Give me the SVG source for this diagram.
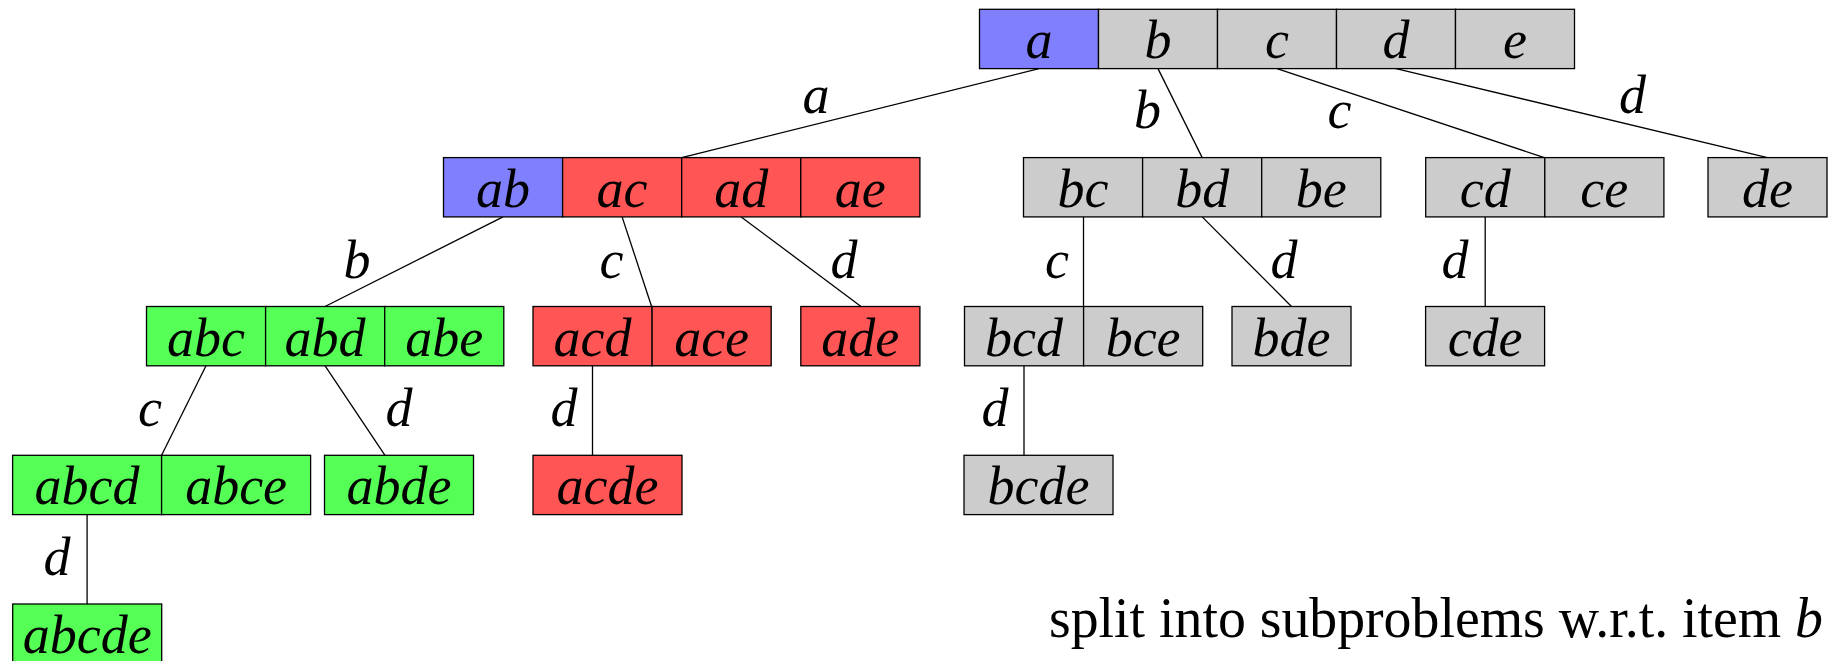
<svg xmlns="http://www.w3.org/2000/svg" width="1835" height="661" viewBox="0 0 1835 661">
<style>
rect{stroke:#000;stroke-width:1.3}
.b{fill:#8080FF}.r{fill:#FF5555}.g{fill:#55FF55}.k{fill:#CCCCCC}
text{font-family:"Liberation Serif","Times New Roman",serif;font-size:54px;fill:#000}
.t,.l{font-style:italic;text-anchor:middle}
#edges line{stroke:#000;stroke-width:1.3}
.cap{font-size:58px}
</style>
<rect x="0" y="0" width="1835" height="661" style="fill:#fff;stroke:none"/>
<g id="edges">
<line x1="1039" y1="68.6" x2="681.7" y2="157.6"/>
<line x1="1158" y1="68.6" x2="1202.2" y2="157.6"/>
<line x1="1277" y1="68.6" x2="1544.3" y2="157.6"/>
<line x1="1396" y1="68.6" x2="1767.5" y2="157.6"/>
<line x1="503" y1="216.9" x2="325" y2="306.5"/>
<line x1="622.1" y1="216.9" x2="651.6" y2="306.5"/>
<line x1="741.2" y1="216.9" x2="861" y2="306.5"/>
<line x1="1083.5" y1="216.9" x2="1083.5" y2="306.5"/>
<line x1="1202.2" y1="216.9" x2="1291.5" y2="306.5"/>
<line x1="1485.2" y1="216.9" x2="1485.2" y2="306.5"/>
<line x1="206" y1="365.8" x2="161.6" y2="455.3"/>
<line x1="325.1" y1="365.8" x2="385" y2="455.3"/>
<line x1="592.5" y1="365.8" x2="592.5" y2="455.3"/>
<line x1="1024" y1="365.8" x2="1024" y2="455.3"/>
<line x1="87.1" y1="514.6" x2="87.1" y2="604"/>
<text class="l" x="816" y="113">a</text>
<text class="l" x="1147.5" y="128">b</text>
<text class="l" x="1339.5" y="128">c</text>
<text class="l" x="1632.5" y="113">d</text>
<text class="l" x="357" y="278">b</text>
<text class="l" x="611.5" y="278">c</text>
<text class="l" x="844" y="278">d</text>
<text class="l" x="1057" y="278">c</text>
<text class="l" x="1284" y="278">d</text>
<text class="l" x="1455" y="278">d</text>
<text class="l" x="150" y="426">c</text>
<text class="l" x="399" y="426">d</text>
<text class="l" x="564" y="426">d</text>
<text class="l" x="995" y="426">d</text>
<text class="l" x="57" y="575">d</text>
</g>
<g id="n-root">
<rect class="b" x="979.5" y="9.3" width="119" height="59.3"/>
<rect class="k" x="1098.5" y="9.3" width="119" height="59.3"/>
<rect class="k" x="1217.5" y="9.3" width="119" height="59.3"/>
<rect class="k" x="1336.5" y="9.3" width="119" height="59.3"/>
<rect class="k" x="1455.5" y="9.3" width="119" height="59.3"/>
<text class="t" x="1039" y="58.3">a</text>
<text class="t" x="1158" y="58.3">b</text>
<text class="t" x="1277" y="58.3">c</text>
<text class="t" x="1396" y="58.3">d</text>
<text class="t" x="1515" y="58.3">e</text>
</g>
<g id="n-a">
<rect class="b" x="443.5" y="157.6" width="119.1" height="59.3"/>
<rect class="r" x="562.6" y="157.6" width="119.1" height="59.3"/>
<rect class="r" x="681.7" y="157.6" width="119.1" height="59.3"/>
<rect class="r" x="800.8" y="157.6" width="119.1" height="59.3"/>
<text class="t" x="503" y="206.6">ab</text>
<text class="t" x="622.1" y="206.6">ac</text>
<text class="t" x="741.2" y="206.6">ad</text>
<text class="t" x="860.3" y="206.6">ae</text>
</g>
<g id="n-b">
<rect class="k" x="1023.5" y="157.6" width="119.1" height="59.3"/>
<rect class="k" x="1142.6" y="157.6" width="119.1" height="59.3"/>
<rect class="k" x="1261.7" y="157.6" width="119.1" height="59.3"/>
<text class="t" x="1083" y="206.6">bc</text>
<text class="t" x="1202.2" y="206.6">bd</text>
<text class="t" x="1321.2" y="206.6">be</text>
</g>
<g id="n-c">
<rect class="k" x="1425.7" y="157.6" width="119.1" height="59.3"/>
<rect class="k" x="1544.8" y="157.6" width="119.1" height="59.3"/>
<text class="t" x="1485.2" y="206.6">cd</text>
<text class="t" x="1604.3" y="206.6">ce</text>
</g>
<g id="n-d">
<rect class="k" x="1708" y="157.6" width="119" height="59.3"/>
<text class="t" x="1767.5" y="206.6">de</text>
</g>
<g id="n-ab">
<rect class="g" x="146.5" y="306.5" width="119.1" height="59.3"/>
<rect class="g" x="265.6" y="306.5" width="119.1" height="59.3"/>
<rect class="g" x="384.7" y="306.5" width="119.1" height="59.3"/>
<text class="t" x="206" y="355.5">abc</text>
<text class="t" x="325.1" y="355.5">abd</text>
<text class="t" x="444.2" y="355.5">abe</text>
</g>
<g id="n-ac">
<rect class="r" x="533" y="306.5" width="119.1" height="59.3"/>
<rect class="r" x="652.1" y="306.5" width="119.1" height="59.3"/>
<text class="t" x="592.5" y="355.5">acd</text>
<text class="t" x="711.6" y="355.5">ace</text>
</g>
<g id="n-ad">
<rect class="r" x="800.8" y="306.5" width="119.1" height="59.3"/>
<text class="t" x="860.3" y="355.5">ade</text>
</g>
<g id="n-bc">
<rect class="k" x="964.5" y="306.5" width="119.1" height="59.3"/>
<rect class="k" x="1083.6" y="306.5" width="119.1" height="59.3"/>
<text class="t" x="1024" y="355.5">bcd</text>
<text class="t" x="1143.1" y="355.5">bce</text>
</g>
<g id="n-bd">
<rect class="k" x="1232" y="306.5" width="119" height="59.3"/>
<text class="t" x="1291.5" y="355.5">bde</text>
</g>
<g id="n-cd">
<rect class="k" x="1425.6" y="306.5" width="119" height="59.3"/>
<text class="t" x="1485.1" y="355.5">cde</text>
</g>
<g id="n-abc">
<rect class="g" x="12.6" y="455.3" width="149" height="59.3"/>
<rect class="g" x="161.6" y="455.3" width="149" height="59.3"/>
<text class="t" x="87.1" y="504.3">abcd</text>
<text class="t" x="236.1" y="504.3">abce</text>
</g>
<g id="n-abd">
<rect class="g" x="324.5" y="455.3" width="149" height="59.3"/>
<text class="t" x="399" y="504.3">abde</text>
</g>
<g id="n-acd">
<rect class="r" x="533" y="455.3" width="149" height="59.3"/>
<text class="t" x="607.5" y="504.3">acde</text>
</g>
<g id="n-bcd">
<rect class="k" x="964" y="455.3" width="149" height="59.3"/>
<text class="t" x="1038.5" y="504.3">bcde</text>
</g>
<g id="n-abcd">
<rect class="g" x="12.7" y="604" width="149" height="59.3"/>
<text class="t" x="87.2" y="653">abcde</text>
</g>
<text class="cap" x="1049" y="637" textLength="774" lengthAdjust="spacingAndGlyphs">split into subproblems w.r.t. item <tspan font-style="italic">b</tspan></text>
</svg>
